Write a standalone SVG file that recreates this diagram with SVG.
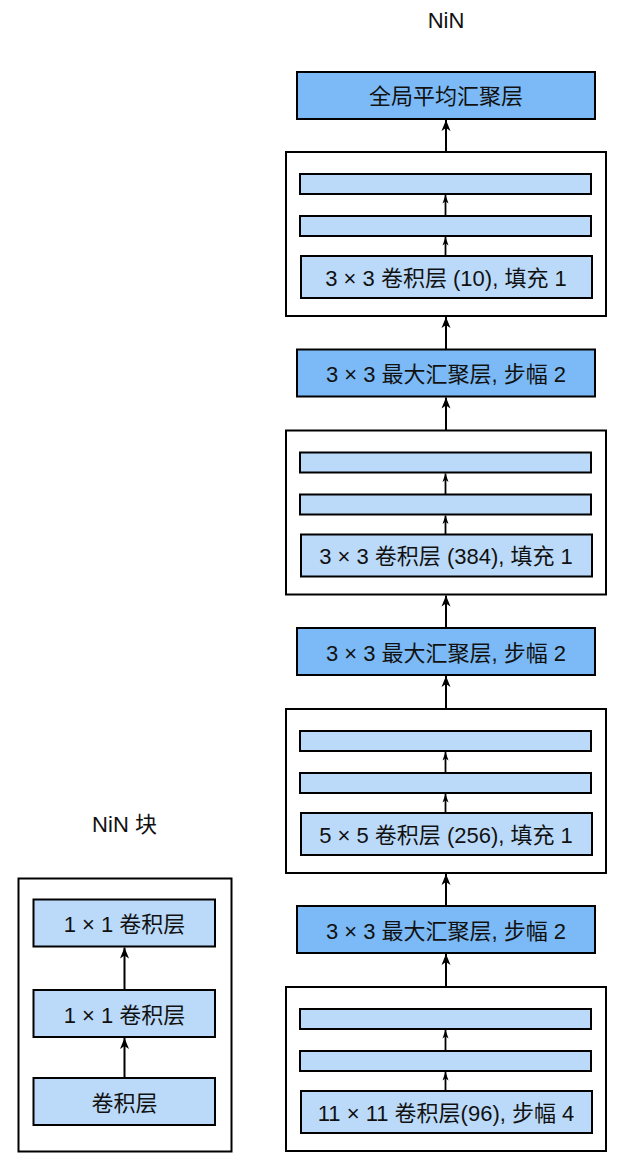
<svg xmlns="http://www.w3.org/2000/svg" width="628" height="1162" viewBox="0 0 628 1162">
<style>
text{font-family:"Liberation Sans",Arial,"Noto Sans CJK SC",sans-serif;font-size:22px;fill:#111;text-anchor:middle}
.outer{fill:#fff;stroke:#000;stroke-width:2}
.light{fill:#bbdafa;stroke:#000;stroke-width:2}
.dark{fill:#7bbaf6;stroke:#000;stroke-width:2}
.arr{stroke:#000;stroke-width:2;fill:none;marker-end:url(#ah)}
.sarr{stroke:#000;stroke-width:1.8;fill:none;marker-end:url(#sah)}
</style>
<defs>
<marker id="ah" markerUnits="userSpaceOnUse" markerWidth="12" markerHeight="10" viewBox="0 0 12 10" refX="11" refY="5" orient="auto">
<path d="M0,0.5 L11,5 L0,9.5 L3,5 Z" fill="#000"/>
</marker>
<marker id="sah" markerUnits="userSpaceOnUse" markerWidth="9" markerHeight="7" viewBox="0 0 9 7" refX="8.5" refY="3.5" orient="auto">
<path d="M0,0.5 L8.5,3.5 L0,6.5 L2.2,3.5 Z" fill="#000"/>
</marker>
</defs>

<text x="446" y="28">NiN</text>
<text x="124.5" y="832">NiN 块</text>

<g id="gap">
<rect class="dark" x="297" y="72" width="298" height="47"/>
<text x="446" y="104">全局平均汇聚层</text>
</g>

<g id="block4">
<rect class="outer" x="286" y="152" width="320" height="164"/>
<rect class="light" x="300" y="174" width="291" height="20"/>
<rect class="light" x="300" y="216" width="291" height="20"/>
<rect class="light" x="301" y="256" width="291" height="42"/>
<text x="446" y="285.5">3 × 3 卷积层 (10), 填充 1</text>
</g>

<g id="pool3">
<rect class="dark" x="297" y="349.5" width="298" height="47"/>
<text x="446" y="382">3 × 3 最大汇聚层, 步幅 2</text>
</g>

<g id="block3">
<rect class="outer" x="286" y="430.5" width="320" height="164"/>
<rect class="light" x="300" y="452.5" width="291" height="20"/>
<rect class="light" x="300" y="494.5" width="291" height="20"/>
<rect class="light" x="301" y="534.5" width="291" height="42"/>
<text x="446" y="564">3 × 3 卷积层 (384), 填充 1</text>
</g>

<g id="pool2">
<rect class="dark" x="297" y="628" width="298" height="47"/>
<text x="446" y="660.5">3 × 3 最大汇聚层, 步幅 2</text>
</g>

<g id="block2">
<rect class="outer" x="286" y="709" width="320" height="164"/>
<rect class="light" x="300" y="731" width="291" height="20"/>
<rect class="light" x="300" y="773" width="291" height="20"/>
<rect class="light" x="301" y="813" width="291" height="42"/>
<text x="446" y="842.5">5 × 5 卷积层 (256), 填充 1</text>
</g>

<g id="pool1">
<rect class="dark" x="297" y="906" width="298" height="47"/>
<text x="446" y="938.5">3 × 3 最大汇聚层, 步幅 2</text>
</g>

<g id="block1">
<rect class="outer" x="286" y="987" width="320" height="164"/>
<rect class="light" x="300" y="1009" width="291" height="20"/>
<rect class="light" x="300" y="1051" width="291" height="20"/>
<rect class="light" x="301" y="1091" width="291" height="42"/>
<text x="446" y="1120.5">11 × 11 卷积层(96), 步幅 4</text>
</g>

<g id="nin-block">
<rect class="outer" x="18.5" y="878.5" width="213" height="273"/>
<rect class="light" x="33.5" y="899.5" width="181.5" height="47"/>
<text x="124.5" y="932">1 × 1 卷积层</text>
<rect class="light" x="33.5" y="990" width="181.5" height="47"/>
<text x="124.5" y="1022.5">1 × 1 卷积层</text>
<rect class="light" x="33.5" y="1078" width="181.5" height="47"/>
<text x="124.5" y="1110.5">卷积层</text>
</g>

<g id="connectors">
<line class="arr" x1="446" y1="152" x2="446" y2="120"/>
<line class="arr" x1="446" y1="349.5" x2="446" y2="317"/>
<line class="arr" x1="446" y1="430.5" x2="446" y2="397.5"/>
<line class="arr" x1="446" y1="628" x2="446" y2="595.5"/>
<line class="arr" x1="446" y1="709" x2="446" y2="676"/>
<line class="arr" x1="446" y1="906" x2="446" y2="874"/>
<line class="arr" x1="446" y1="987" x2="446" y2="954"/>
<line class="sarr" x1="445.5" y1="216" x2="445.5" y2="195"/>
<line class="sarr" x1="445.5" y1="256" x2="445.5" y2="237"/>
<line class="sarr" x1="445.5" y1="494.5" x2="445.5" y2="473.5"/>
<line class="sarr" x1="445.5" y1="534.5" x2="445.5" y2="515.5"/>
<line class="sarr" x1="445.5" y1="773" x2="445.5" y2="752"/>
<line class="sarr" x1="445.5" y1="813" x2="445.5" y2="794"/>
<line class="sarr" x1="445.5" y1="1051" x2="445.5" y2="1030"/>
<line class="sarr" x1="445.5" y1="1091" x2="445.5" y2="1072"/>
<line class="arr" x1="124.5" y1="990" x2="124.5" y2="947.5"/>
<line class="arr" x1="124.5" y1="1078" x2="124.5" y2="1038"/>
</g>
</svg>
